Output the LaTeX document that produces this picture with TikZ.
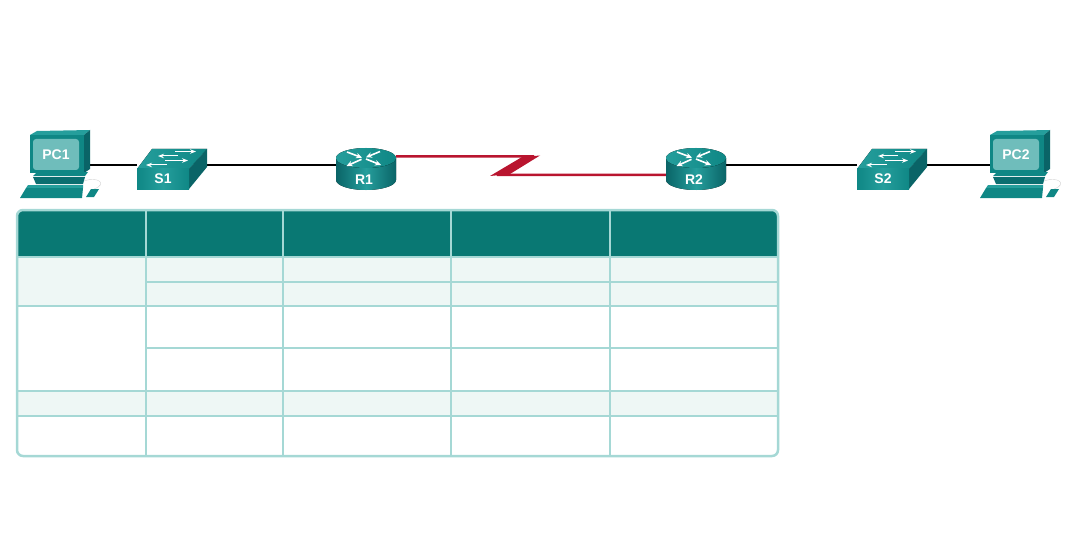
\documentclass[tikz,border=0pt]{standalone}
\usepackage{fontspec}
\setmainfont{Liberation Sans}
\usetikzlibrary{arrows.meta}
\definecolor{cisco teal}{HTML}{0F8785}
\definecolor{cisco light}{HTML}{259E9C}
\definecolor{cisco dark}{HTML}{0A6467}
\definecolor{cisco screen}{HTML}{6FBDBB}
\definecolor{serial red}{HTML}{B9152F}
\definecolor{table head}{HTML}{097873}
\definecolor{table line}{HTML}{A5D8D5}
\definecolor{table band}{HTML}{EEF7F5}
\tikzset{
	devbox/.style = {minimum height=20pt, inner sep=0pt, outer sep=0pt},
	devlabel/.style = {text=white, font=\fontsize{14}{14}\selectfont\bfseries, inner sep=0pt},
	tabline/.style = {table line, line width=2.5pt},
	swarrow/.style = {white, line width=1pt, -{Stealth[length=6pt,width=4.5pt]}},
	rtarrow/.style = {white, line width=1.6pt, -{Stealth[length=6pt,width=5.5pt]}},
	pics/pcicon/.style = {code = {
		% monitor
		\fill[cisco light] (30, 135) -- (37, 131) -- (90, 130) -- (84, 135) -- cycle;
		\fill[cisco dark] (84, 135) -- (90, 130) -- (90, 169) -- (84, 173) -- cycle;
		\fill[cisco teal] (30, 135) rectangle (84, 173);
		\fill[cisco screen, rounded corners=3pt] (33, 139) rectangle (79, 170);
		\node[devlabel] (lbl#1) at (56, 154.5) {#1};
		% stand and keyboard
		\fill[cisco teal] (36, 173) -- (88, 172) -- (85, 176) -- (33, 176) -- cycle;
		\fill[cisco dark!70!cisco teal] (33, 177) -- (85, 177) -- (83, 184) -- (36, 184) -- cycle;
		\fill[cisco light] (28, 185) -- (83, 185) -- (83, 188) -- (26, 188) -- cycle;
		\fill[cisco teal] (26, 188) -- (83, 188) -- (82, 198) -- (20, 198) -- cycle;
		% mouse and its cable
		\draw[gray!35, line width=0.4pt] (84, 181) .. controls (98, 176) and (108, 184) .. (94, 189);
		\fill[cisco teal] (86, 197) -- (91, 189) -- (99, 189) -- (94, 197) -- cycle;
	}},
	pics/switchicon/.style = {code = {
		\fill[left color=cisco light, right color=cisco teal] (137, 169) -- (152, 149) -- (207, 149) -- (189, 169) -- cycle;
		\fill[cisco dark] (189, 169) -- (207, 149) -- (207, 167) -- (189, 189) -- cycle;
		\fill[left color=cisco teal, right color=cisco teal, middle color=cisco light] (137, 169) rectangle (189, 189);
		\draw[swarrow] (175, 151.5) -- (196, 151.5);
		\draw[swarrow] (178, 156) -- (158, 156);
		\draw[swarrow] (165, 160.5) -- (188, 160.5);
		\draw[swarrow] (167, 165) -- (146, 165);
		\node[devlabel] (lbl#1) at (163, 179) {#1};
	}},
	pics/routericon/.style = {code = {
		\fill[left color=cisco dark, right color=cisco dark, middle color=cisco light]
			(336, 158) -- (336, 180) arc[start angle=180, end angle=360, x radius=30, y radius=-10]
			-- (396, 158) -- cycle;
		\fill[left color=cisco light, right color=cisco teal] (366, 158) ellipse[x radius=30, y radius=10];
		% arrows on the top
		\draw[rtarrow] (347, 152) -- (362, 157.7);
		\draw[rtarrow] (366, 159) -- (381, 165);
		\draw[rtarrow] (380, 151.5) -- (366, 157.3);
		\draw[rtarrow] (361.5, 159.3) -- (346.5, 166);
		\node[devlabel] (lbl#1) at (364, 180) {#1};
	}}
}
\begin{document}
\begin{tikzpicture}[x=1pt, y=-1pt]
		\useasboundingbox (0, 0) rectangle (1083, 556);
		% places of the devices
		\node[devbox, minimum width=59pt] (PC1) at (59.5, 165.5) {};
		\node[devbox, minimum width=70pt] (S1) at (172, 165.5) {};
		\node[devbox, minimum width=60pt] (R1) at (366, 165.5) {};
		\node[devbox, minimum width=60pt] (R2) at (696, 165.5) {};
		\node[devbox, minimum width=70pt] (S2) at (892, 165.5) {};
		\node[devbox, minimum width=59pt] (PC2) at (1019.5, 165.5) {};
		\coordinate (zigtop) at (534, 156.5);
		\coordinate (zigbot) at (497, 175);
		% links
		\draw[black, line width=2pt]
			(PC1) -- (S1)
			(S1) -- (R1)
			(R2) -- (S2)
			(S2) -- (PC2);
		\fill[serial red] (522, 157) -- (540, 155.5) -- (510, 174) -- (490, 176) -- cycle;
		\draw[serial red, line width=2.5pt, line join=bevel]
			(R1.east |- zigtop) -- (zigtop) -- (zigbot) -- (R2.west |- zigbot);
		% devices
		\pic at (0, 0) {pcicon=PC1};
		\pic at (0, 0) {switchicon=S1};
		\pic at (0, 0) {routericon=R1};
		\pic at (330, 0) {routericon=R2};
		\pic at (720, 0) {switchicon=S2};
		\pic at (960, 0) {pcicon=PC2};
		% table
		\begin{scope}
			\clip[rounded corners=6pt] (17, 210) rectangle (778, 456);
			\fill[table head] (17, 210) rectangle (778, 257);
			\fill[table band] (17, 257) rectangle (778, 306);
			\fill[table band] (17, 391) rectangle (778, 416);
		\end{scope}
		\foreach \ypos in {257, 306, 391, 416}
			\draw[tabline] (17, \ypos) -- (778, \ypos);
		\foreach \ypos in {282, 348}
			\draw[tabline] (146, \ypos) -- (778, \ypos);
		\foreach \xpos in {146, 283, 451, 610}
			\draw[tabline] (\xpos, 210) -- (\xpos, 456);
		\draw[tabline, rounded corners=6pt] (17, 210) rectangle (778, 456);
	\end{tikzpicture}
\end{document}
